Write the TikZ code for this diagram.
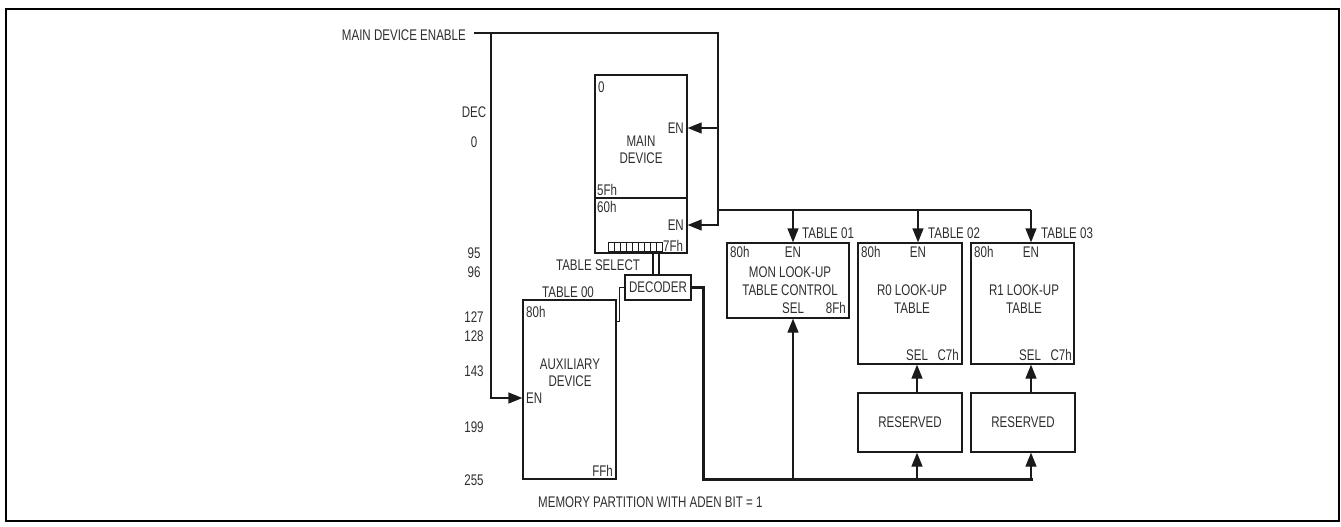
\documentclass[tikz,border=0pt]{standalone}
\usepackage{fontspec}
\setmainfont[FakeStretch=0.75]{Liberation Sans}
\usepackage{xcolor}
\usetikzlibrary{arrows.meta,positioning,calc}
\definecolor{cWire}{HTML}{1A1A1A}
\definecolor{cText}{HTML}{2E2E2E}
\tikzset{
  lbl/.style  ={font=\fontsize{15.4}{17.5}\selectfont, text=cText, inner sep=0pt},
  blk/.style  ={draw=cWire, line width=1.3pt, inner sep=0pt, align=center},
  wire/.style ={draw=cWire, line width=1.3pt},
  bus/.style  ={draw=cWire, line width=3pt},
  arrow/.style={-{Triangle[length=14pt,width=11pt]}, line width=1.3pt, draw=cWire},
}

\begin{document}
\begin{tikzpicture}[x=1pt, y=-1pt, every node/.style={lbl}]
  \useasboundingbox (0,0) rectangle (1341,527);
  \draw[line width=2pt] (6,9) rectangle (1339,521);

  % decimal address scale
  \foreach \t/\y in {DEC/112, 0/142, 95/253, 96/272, 127/317, 128/336, 143/371, 199/427, 255/480}
    \node (n\y) at (474,\y) {\t};
  \node[anchor=east] (mde) at (466,35) {MAIN DEVICE ENABLE};

  % main device, lower page holds the table select byte
  \node[blk, minimum width=92, minimum height=123] (mainhi) at (641,136.5) {};
  \node[blk, minimum width=92, minimum height=55] (mainlo) at (641,225.5) {};
  \node[anchor=west] (m0) at (598,87) {0};
  \node[align=center] (mainlbl) at (641,150) {MAIN\\DEVICE};
  \node[anchor=east] (enhi) at (684,128) {EN};
  \node[anchor=west] (m5f) at (597,190) {5Fh};
  \node[anchor=west] (m60) at (597,207) {60h};
  \node[anchor=east] (enlo) at (684,225) {EN};
  \node[anchor=west] (m7f) at (663,246) {7Fh};
  \foreach \i in {0,...,8}
    \draw[cWire, line width=0.8pt] ({608+6*\i},242) rectangle ++(6,9);
  \coordinate (ts1) at (653,251);
  \coordinate (ts2) at (659,251);
  \node (tsel) at (598,265) {TABLE SELECT};

  \node[blk, minimum width=66, minimum height=25] (dec) at (658,287.5) {DECODER};
  \draw[wire] (ts1) -- (ts1 |- dec.north);
  \draw[wire] (ts2) -- (ts2 |- dec.north);

  % auxiliary device
  \node (t00) at (568,292) {TABLE 00};
  \node[blk, minimum width=93, minimum height=179] (aux) at (569.5,389.5) {};
  \node[anchor=west] (a80) at (526,312) {80h};
  \node[align=center] (auxlbl) at (570,373) {AUXILIARY\\DEVICE};
  \node[anchor=west] (auxen) at (526,398) {EN};
  \node[anchor=east] (aff) at (613,471) {FFh};
  \draw[wire] (dec.west) -- ++(-5,0) |- ([yshift=-22pt]aux.north east);

  % look-up tables
  \node[blk, minimum width=122, minimum height=75] (mon) at (788,280.5) {};
  \node[blk, minimum width=104, minimum height=121] (r0) at (910,303.5) {};
  \node[blk, minimum width=103, minimum height=121] (r1) at (1022.5,303.5) {};
  \node[blk, minimum width=104, minimum height=59] (r0res) at (910,422.5) {RESERVED};
  \node[blk, minimum width=104, minimum height=59] (r1res) at (1023,422.5) {RESERVED};

  \node[anchor=west] (mon80) at (730,252) {80h};
  \node (monen) at (793,252) {EN};
  \node[align=center] (monlbl) at (790,281) {MON LOOK-UP\\TABLE CONTROL};
  \node (monsel) at (793,308) {SEL};
  \node[anchor=east] (mon8f) at (846,308) {8Fh};
  \node[anchor=west] (r080) at (861,252) {80h};
  \node (r0en) at (918,252) {EN};
  \node[align=center] (r0lbl) at (912,299) {R0 LOOK-UP\\TABLE};
  \node (r0sel) at (917,355) {SEL};
  \node[anchor=east] (r0c7) at (959,355) {C7h};
  \node[anchor=west] (r180) at (974,252) {80h};
  \node (r1en) at (1031,252) {EN};
  \node[align=center] (r1lbl) at (1024,299) {R1 LOOK-UP\\TABLE};
  \node (r1sel) at (1030,355) {SEL};
  \node[anchor=east] (r1c7) at (1072,355) {C7h};
  \node[anchor=west] (t01) at (802,233) {TABLE 01};
  \node[anchor=west] (t02) at (928,233) {TABLE 02};
  \node[anchor=west] (t03) at (1041,233) {TABLE 03};

  % enable wiring
  \coordinate (mdeS) at (474,33);
  \coordinate (mdeL) at (491,33);
  \coordinate (mdeR) at (718,33);
  \coordinate (tbus) at (718,210);
  \coordinate (t1) at (793,210);
  \coordinate (t2) at (918,210);
  \coordinate (t3) at (1031,210);
  \draw[wire] (mdeS) -- (mdeR) -- (tbus) -- (t3);
  \draw[arrow] (mdeR |- enhi) -- (mainhi.east |- enhi);
  \draw[arrow] (tbus) |- (mainlo.east |- enlo);
  \draw[arrow] (mdeL) |- (aux.west |- auxen);
  \draw[arrow] (t1) -- (t1 |- mon.north);
  \draw[arrow] (t2) -- (t2 |- r0.north);
  \draw[arrow] (t3) -- (t3 |- r1.north);

  % select bus from decoder
  \coordinate (bcorner) at (703,479);
  \coordinate (b1) at (793,479);
  \coordinate (b2) at (917,479);
  \coordinate (b3) at (1031,479);
  \draw[bus] (dec.east) -| (bcorner) -- ([xshift=1.5pt]b3);
  \draw[arrow] (b1) -- (b1 |- mon.south);
  \draw[arrow] (b2) -- (b2 |- r0res.south);
  \draw[arrow] (b3) -- (b3 |- r1res.south);
  \draw[arrow] (b2 |- r0res.north) -- (b2 |- r0.south);
  \draw[arrow] (b3 |- r1res.north) -- (b3 |- r1.south);

  \node[anchor=west] (cap) at (538,502) {MEMORY PARTITION WITH ADEN BIT = 1};
\end{tikzpicture}
\end{document}
